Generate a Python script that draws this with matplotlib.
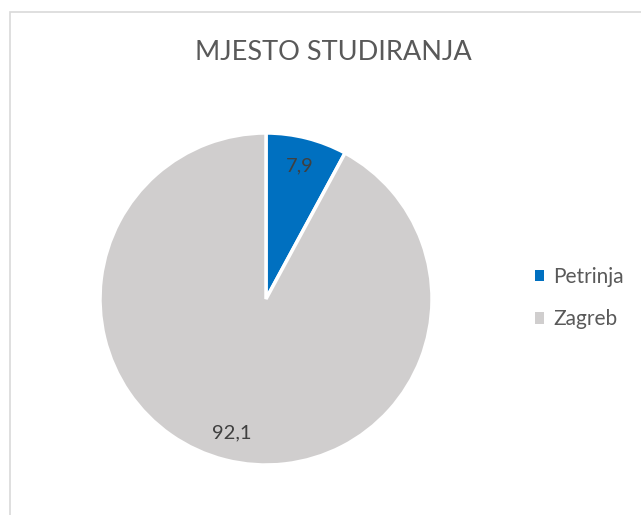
import matplotlib.pyplot as plt
from matplotlib.patches import Rectangle

labels = ['Petrinja', 'Zagreb']
values = [7.9, 92.1]
colors = ['#0070C0', '#D0CECE']

plt.rcParams['font.family'] = ['Lato', 'DejaVu Sans']

fig = plt.figure(figsize=(6.41, 5.15), dpi=100)
W, H = 641, 515

# chart area border (runs off the right and bottom edge)
fig.patches.append(Rectangle((10 / W, -0.1), 1.0, (515 - 12) / H + 0.1,
                             transform=fig.transFigure, fill=False,
                             edgecolor='#D9D9D9', linewidth=1.2))

fig.text(333 / W, 1 - 52 / H, 'MJESTO STUDIRANJA', ha='center', va='center',
         fontsize=19.5, color='#595959')

cx, cy, r = 266, 299, 166
ax = fig.add_axes([(cx - r) / W, (H - cy - r) / H, 2 * r / W, 2 * r / H])
wedges, texts, autotexts = ax.pie(
    values, colors=colors, startangle=90, counterclock=False,
    wedgeprops=dict(edgecolor='white', linewidth=2.5),
    autopct=lambda p: f'{p:.1f}'.replace('.', ','), pctdistance=0.83,
    textprops=dict(fontsize=14.5, color='#404040'))
ax.set_xlim(-1, 1)
ax.set_ylim(-1, 1)
ax.set_aspect('equal')

leg = fig.legend(wedges, labels, loc='center left',
                 bbox_to_anchor=(516 / W, 1 - 298 / H), frameon=False,
                 fontsize=15, labelcolor='#595959', handlelength=0.45,
                 handleheight=0.45, handletextpad=0.45, labelspacing=1.1)
for h in leg.legend_handles:
    h.set_edgecolor('none')

fig.savefig('out.png', dpi=100)
